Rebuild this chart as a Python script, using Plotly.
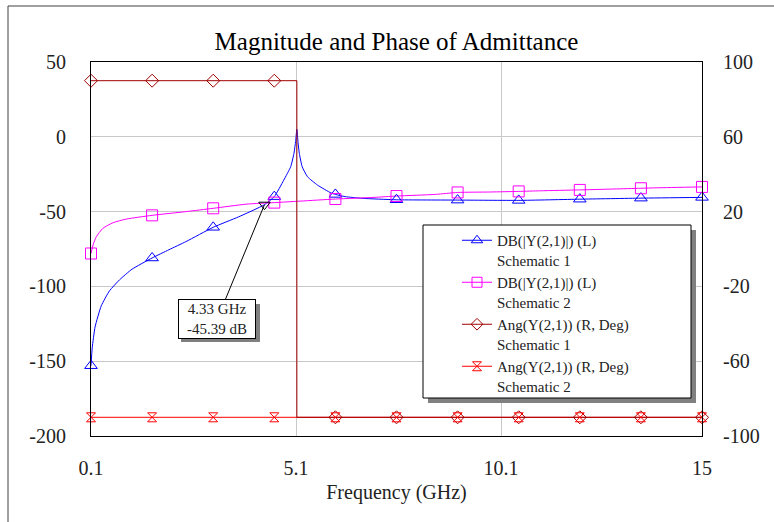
import plotly.graph_objects as go

# ---------------- data ----------------
freq_s1 = [0.1, 0.13, 0.2, 0.35, 0.55, 0.8, 1.1, 1.59, 2.0, 2.42, 3.08, 3.7, 4.33, 4.57,
           4.8, 4.97, 5.05, 5.09, 5.12, 5.15, 5.18, 5.25, 5.38, 5.62, 5.95, 6.06, 6.3, 6.7,
           7.55, 9.04, 10.53, 12.02, 13.51, 15.0]
db_s1 = [-153, -141, -127, -113, -103, -95.5, -88.5, -81, -75.5, -70, -60.5, -53.5, -45.39, -40,
         -29, -20, -11, -3, 5, -4, -11, -20, -26.7, -32.2, -37.5, -38.5, -40, -41.1,
         -42.1, -42.3, -42.5, -41.7, -41.0, -40.5]

freq_s2 = [0.1, 0.15, 0.23, 0.39, 0.64, 0.96, 1.59, 2.42, 3.08, 3.9, 4.57, 5.2, 6.06, 7.0,
           7.55, 8.5, 9.04, 9.84, 10.53, 11.06, 12.02, 12.85, 13.51, 13.9, 15.0]
db_s2 = [-78, -72.3, -66.8, -61.2, -57.4, -55, -52.5, -50, -47.8, -45, -44, -43, -41.6, -40.5,
         -39.6, -38.5, -37.2, -36.9, -36.5, -36.1, -35.5, -34.9, -34.4, -34.1, -33.5]

marker_freqs = [0.1, 1.59, 3.08, 4.57, 6.06, 7.55, 9.04, 10.53, 12.02, 13.51, 15.0]

freq_ph1 = [0.1, 1.59, 3.08, 4.57, 5.12, 5.12, 6.06, 7.55, 9.04, 10.53, 12.02, 13.51, 15.0]
ang_s1 = [90, 90, 90, 90, 90, -90, -90, -90, -90, -90, -90, -90, -90]
freq_ph2 = [0.1, 1.59, 3.08, 4.57, 6.06, 7.55, 9.04, 10.53, 12.02, 13.51, 15.0]
ang_s2 = [-90, -90, -90, -90, -90, -90, -90, -90, -90, -90, -90]

marker_point = (4.33, -45.39)
marker_label = "4.33 GHz<br>-45.39 dB"

x_tickvals = [0.1, 5.1, 10.1, 15]
x_ticktext = ["0.1", "5.1", "10.1", "15"]
y_tickvals = [-200, -150, -100, -50, 0, 50]
y_ticktext = ["-200", "-150", "-100", "-50", "0", "50"]
y2_tickvals = [-100, -60, -20, 20, 60, 100]
y2_ticktext = ["-100", "-60", "-20", "20", "60", "100"]

names = ["DB(|Y(2,1)|) (L)<br>Schematic 1", "DB(|Y(2,1)|) (L)<br>Schematic 2",
         "Ang(Y(2,1)) (R, Deg)<br>Schematic 1", "Ang(Y(2,1)) (R, Deg)<br>Schematic 2"]

# ---------------- styling ----------------
FONT = "Liberation Serif"
BLUE, PINK, DRED, RED = "#0000FF", "#FF00FF", "#A00000", "#FF0000"
W, H = 774, 522
PL, PR, PT, PB = 91, 702, 62, 436


def px_x(p):
    return (p - PL) / (PR - PL)


def px_y(p):
    return (PB - p) / (PB - PT)


def pick(xs, ys, keep):
    kx, ky = [], []
    seen = set()
    for a, b in zip(xs, ys):
        if any(abs(a - k) < 1e-6 for k in keep) and a not in seen:
            kx.append(a)
            ky.append(b)
            seen.add(a)
    return kx, ky


fig = go.Figure()

# curves
fig.add_trace(go.Scatter(x=freq_s1, y=db_s1, mode="lines", line=dict(color=BLUE, width=1, shape="spline", smoothing=0.5),
                         showlegend=False, hoverinfo="skip"))
fig.add_trace(go.Scatter(x=freq_s2, y=db_s2, mode="lines", line=dict(color=PINK, width=1, shape="spline", smoothing=0.6),
                         showlegend=False, hoverinfo="skip"))
fig.add_trace(go.Scatter(x=freq_ph2, y=ang_s2, yaxis="y2", mode="lines", line=dict(color=RED, width=1),
                         showlegend=False, hoverinfo="skip"))
fig.add_trace(go.Scatter(x=freq_ph1, y=ang_s1, yaxis="y2", mode="lines", line=dict(color=DRED, width=1),
                         showlegend=False, hoverinfo="skip"))

# markers
mx, my = pick(freq_s1, db_s1, marker_freqs)
fig.add_trace(go.Scatter(x=mx, y=my, mode="markers", showlegend=False, cliponaxis=False,
                         marker=dict(symbol="triangle-up-open", size=11, color=BLUE, line=dict(width=1))))
mx, my = pick(freq_s2, db_s2, marker_freqs)
fig.add_trace(go.Scatter(x=mx, y=my, mode="markers", showlegend=False, cliponaxis=False,
                         marker=dict(symbol="square-open", size=11, color=PINK, line=dict(width=1))))
mx, my = pick(freq_ph1, ang_s1, marker_freqs)
fig.add_trace(go.Scatter(x=mx, y=my, yaxis="y2", mode="markers", showlegend=False, cliponaxis=False,
                         marker=dict(symbol="diamond-open", size=10, color=DRED, line=dict(width=1))))
fig.add_trace(go.Scatter(x=freq_ph2, y=ang_s2, yaxis="y2", mode="markers", showlegend=False, cliponaxis=False,
                         marker=dict(symbol="hourglass-open", size=9, color=RED, line=dict(width=1))))

# marker point of the annotation
fig.add_trace(go.Scatter(x=[marker_point[0]], y=[marker_point[1]], mode="markers", showlegend=False,
                         marker=dict(symbol="triangle-down-open", size=10, color="black", line=dict(width=1))))

# legend entries
for nm, col, sym, sz in zip(names, [BLUE, PINK, DRED, RED],
                            ["triangle-up-open", "square-open", "diamond-open", "hourglass-open"],
                            [10, 10, 9, 9]):
    fig.add_trace(go.Scatter(x=[None], y=[None], mode="lines+markers", name=nm,
                             line=dict(color=col, width=1),
                             marker=dict(symbol=sym, size=sz, color=col, line=dict(width=1))))

shapes = [
    # outer frame
    dict(type="rect", xref="paper", yref="paper", x0=px_x(8), x1=px_x(900), y0=px_y(600), y1=px_y(6),
         line=dict(color="#404040", width=1), fillcolor="rgba(0,0,0,0)", layer="below"),
    # legend shadow and box
    dict(type="rect", xref="paper", yref="paper", x0=px_x(428), x1=px_x(696), y0=px_y(403), y1=px_y(230),
         line=dict(width=0), fillcolor="#808080", layer="above"),
    dict(type="rect", xref="paper", yref="paper", x0=px_x(423), x1=px_x(691), y0=px_y(398), y1=px_y(225),
         line=dict(color="black", width=1), fillcolor="white", layer="above"),
    # annotation shadow
    dict(type="rect", xref="paper", yref="paper", x0=px_x(181), x1=px_x(260), y0=px_y(342), y1=px_y(304),
         line=dict(width=0), fillcolor="#808080", layer="above"),
]

tickfont = dict(family=FONT, size=20, color="#222222")

fig.update_layout(
    width=W, height=H,
    margin=dict(l=PL, r=W - PR, t=PT, b=H - PB),
    paper_bgcolor="white", plot_bgcolor="white",
    font=dict(family=FONT, size=20, color="#222222"),
    title=dict(text="Magnitude and Phase of Admittance", x=0.5, xanchor="center", xref="paper",
               y=1 - 41 / H, yanchor="middle", font=dict(family=FONT, size=25, color="black")),
    xaxis=dict(range=[0.1, 15], tickvals=x_tickvals, ticktext=x_ticktext, showgrid=True,
               gridcolor="#C8C8C8", gridwidth=1, showline=True, mirror=True, linecolor="black",
               linewidth=1, zeroline=False, ticks="", ticklabelstandoff=14, tickfont=tickfont,
               title=dict(text="Frequency (GHz)", standoff=6, font=dict(family=FONT, size=20))),
    yaxis=dict(range=[-200, 50], tickvals=y_tickvals, ticktext=y_ticktext, showgrid=True,
               gridcolor="#C8C8C8", gridwidth=1, tickfont=tickfont,
               showline=True, mirror=True, linecolor="black", linewidth=1, zeroline=False, ticks="",
               ticklabelstandoff=20),
    yaxis2=dict(range=[-100, 100], tickvals=y2_tickvals, ticktext=y2_ticktext, overlaying="y", side="right",
                showgrid=False, zeroline=False, showline=False, ticks="", ticklabelstandoff=20,
                tickfont=tickfont),
    legend=dict(x=px_x(457), y=px_y(224), xanchor="left", yanchor="top", bgcolor="rgba(0,0,0,0)",
                borderwidth=0, font=dict(family=FONT, size=15, color="#222222"), valign="top",
                tracegroupgap=0, itemclick=False),
    shapes=shapes,
    annotations=[dict(x=marker_point[0], y=marker_point[1], xref="x", yref="y", text=marker_label,
                      showarrow=True, arrowhead=0, arrowwidth=1, arrowcolor="black", ax=-47, ay=114,
                      bgcolor="white", bordercolor="black", borderwidth=1, borderpad=1, width=74,
                      font=dict(family=FONT, size=15, color="#222222"))],
    showlegend=True,
)

fig.write_html("out.html")
